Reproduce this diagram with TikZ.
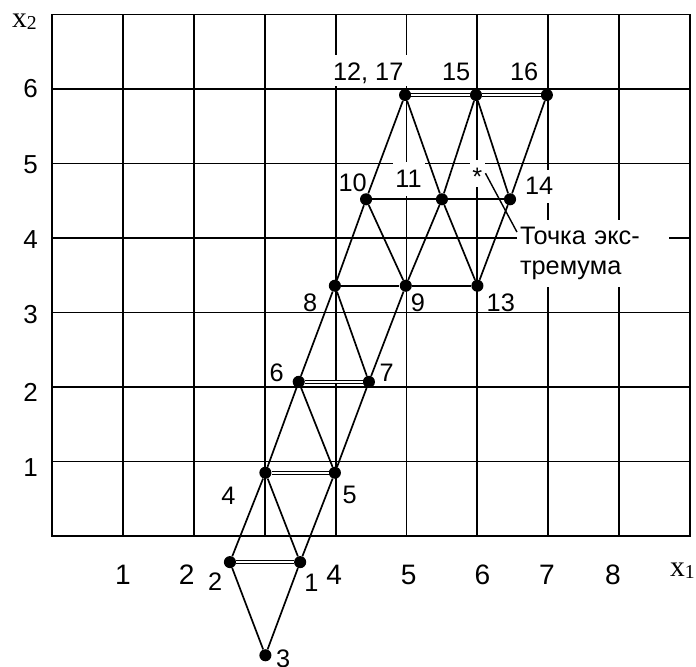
\documentclass[tikz,border=0pt]{standalone}
\usepackage{fontspec}
\setmainfont{Liberation Sans}
\newfontfamily\axisSerif{Liberation Serif}
\usetikzlibrary{positioning}
\newcommand{\numFont}{\fontsize{18}{21.5}\selectfont}
\newcommand{\tickFont}{\fontsize{18.5}{22}\selectfont}
\newcommand{\axisVar}[2]{{\axisSerif\fontsize{21}{21}\selectfont #1\raisebox{-2pt}{\fontsize{14}{14}\selectfont #2}}}
\tikzset{
  gridLine/.style={line width=1.3pt, line cap=rect, xstep=1.7725cm, ystep=1.8625cm},
  edgeLine/.style={line width=1.2pt},
  twinLine/.style={line width=0.75pt, double=white, double distance=1.4pt},
  vertexDot/.style={circle, fill=black, inner sep=0pt, minimum size=8.6pt},
  numLabel/.style={font=\numFont, inner sep=0pt, anchor=base},
  maskLabel/.style={numLabel, fill=white, inner xsep=2pt, inner ysep=1pt, text height=17pt, text depth=5pt},
  tickLabel/.style={font=\tickFont, inner sep=0pt, anchor=base},
  axisLabel/.style={inner sep=0pt, anchor=base}
}
\begin{document}
\begin{tikzpicture}[x=1.7725cm, y=1.8625cm]
  \useasboundingbox (-0.733,-1.745) rectangle (9.083,7.195);
  \draw[gridLine] (0,0) grid (9,7);

  \node[axisLabel] (xTwo) at (-0.39,6.83) {\axisVar{x}{2}};
  \node[axisLabel] (xOne) at (8.89,-0.537) {\axisVar{x}{1}};

  \node[tickLabel, font=\fontsize{20}{24}\selectfont] (tx1) at (1.00,-0.645) {1};
  \node[tickLabel, font=\fontsize{20}{24}\selectfont] (tx2) at (1.90,-0.645) {2};
  \node[tickLabel, font=\fontsize{20}{24}\selectfont] (tx4) at (3.98,-0.645) {4};
  \node[tickLabel, font=\fontsize{20}{24}\selectfont] (tx5) at (5.03,-0.645) {5};
  \node[tickLabel, font=\fontsize{20}{24}\selectfont] (tx6) at (6.07,-0.645) {6};
  \node[tickLabel, font=\fontsize{20}{24}\selectfont] (tx7) at (6.98,-0.645) {7};
  \node[tickLabel, font=\fontsize{20}{24}\selectfont] (tx8) at (7.91,-0.645) {8};
  \node[tickLabel] (ty1) at (-0.30,0.80) {1};
  \node[tickLabel] (ty2) at (-0.30,1.80) {2};
  \node[tickLabel] (ty3) at (-0.30,2.855) {3};
  \node[tickLabel] (ty4) at (-0.30,3.86) {4};
  \node[tickLabel] (ty5) at (-0.30,4.87) {5};
  \node[tickLabel] (ty6) at (-0.30,5.88) {6};

  \node[maskLabel, inner xsep=6pt, text depth=3pt] (l12) at (4.46,6.12) {12, 17};
  \node[numLabel] (l15) at (5.70,6.12) {15};
  \node[numLabel] (l16) at (6.66,6.12) {16};
  \node[numLabel] (l10) at (4.24,4.62) {10};
  \node[maskLabel] (l11) at (5.03,4.68) {11};
  \node[maskLabel, text depth=0pt] (star) at (6.00,4.71) {*};
  \node[maskLabel] (l14) at (6.87,4.58) {14};
  \node[numLabel] (l8) at (3.64,3.02) {8};
  \node[numLabel] (l9) at (5.16,3.02) {9};
  \node[numLabel] (l13) at (6.33,3.02) {13};
  \node[numLabel] (l6) at (3.17,2.08) {6};
  \node[numLabel] (l7) at (4.72,2.08) {7};
  \node[numLabel] (l4) at (2.49,0.43) {4};
  \node[numLabel] (l5) at (4.20,0.44) {5};
  \node[numLabel] (l2) at (2.30,-0.73) {2};
  \node[numLabel] (l1) at (3.66,-0.75) {1};
  \node[numLabel] (l3) at (3.26,-1.77) {3};
  \node[font=\numFont, fill=white, anchor=north west, inner xsep=2pt, inner ysep=5pt, text width=104pt, align=left] (extremum) at (6.558,4.25) {Точка экс-\\тремума};

  \node[vertexDot] (p1) at (3.50,-0.35) {};
  \node[vertexDot] (p2) at (2.51,-0.35) {};
  \node[vertexDot] (p3) at (3.01,-1.60) {};
  \node[vertexDot] (p4) at (3.01,0.85) {};
  \node[vertexDot] (p5) at (3.99,0.85) {};
  \node[vertexDot] (p6) at (3.48,2.07) {};
  \node[vertexDot] (p7) at (4.47,2.07) {};
  \node[vertexDot] (p8) at (3.99,3.36) {};
  \node[vertexDot] (p9) at (4.99,3.36) {};
  \node[vertexDot] (p13) at (6.00,3.36) {};
  \node[vertexDot] (p10) at (4.43,4.52) {};
  \node[vertexDot] (p11) at (5.50,4.52) {};
  \node[vertexDot] (p14) at (6.46,4.52) {};
  \node[vertexDot] (p12) at (4.98,5.92) {};
  \node[vertexDot] (p15) at (5.98,5.92) {};
  \node[vertexDot] (p16) at (6.98,5.92) {};

  \draw[edgeLine] (p3) -- (p2);
  \draw[edgeLine] (p3) -- (p1);
  \draw[twinLine] (p2) -- (p1);
  \draw[edgeLine] (p2) -- (p4);
  \draw[edgeLine] (p4) -- (p1);
  \draw[edgeLine] (p1) -- (p5);
  \draw[twinLine] (p4) -- (p5);
  \draw[edgeLine] (p4) -- (p6);
  \draw[edgeLine] (p6) -- (p5);
  \draw[edgeLine] (p5) -- (p7);
  \draw[twinLine] (p6) -- (p7);
  \draw[edgeLine] (p6) -- (p8);
  \draw[edgeLine] (p8) -- (p7);
  \draw[edgeLine] (p7) -- (p9);
  \draw[edgeLine] (p8) -- (p9) -- (p13);
  \draw[edgeLine] (p8) -- (p10);
  \draw[edgeLine] (p10) -- (p9);
  \draw[edgeLine] (p9) -- (p11);
  \draw[edgeLine] (p11) -- (p13);
  \draw[edgeLine] (p13) -- (p14);
  \draw[edgeLine] (p10) -- (p11) -- (p14);
  \draw[edgeLine] (p10) -- (p12);
  \draw[edgeLine] (p12) -- (p11);
  \draw[edgeLine] (p11) -- (p15);
  \draw[edgeLine] (p15) -- (p14);
  \draw[edgeLine] (p14) -- (p16);
  \draw[twinLine] (p12) -- (p15) -- (p16);
  \draw[line width=1pt] (star.east) -- ([yshift=-9pt]extremum.north west);
\end{tikzpicture}
\end{document}
